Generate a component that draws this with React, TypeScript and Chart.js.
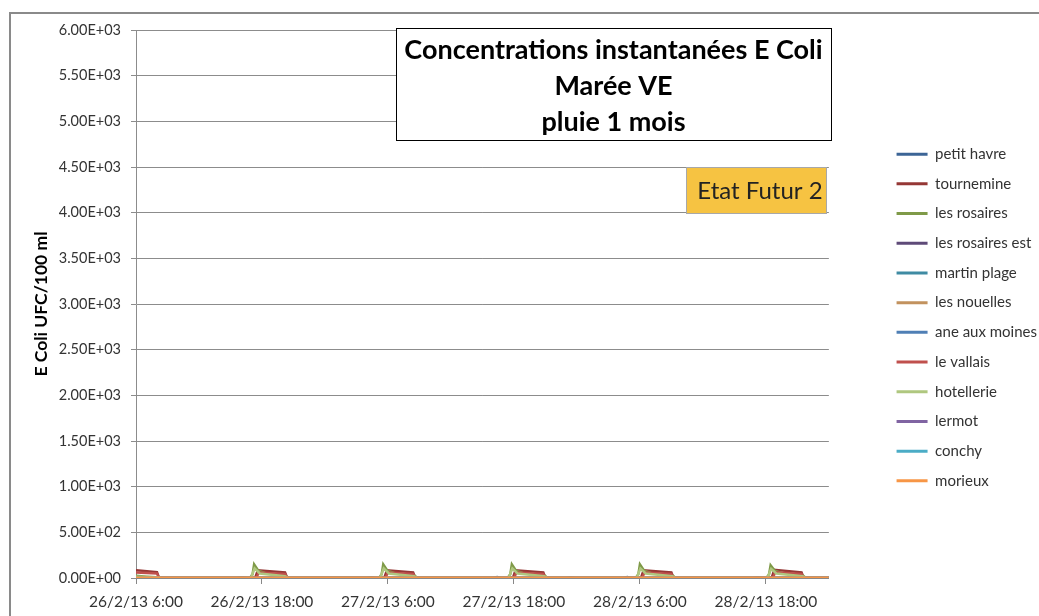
import React, { useEffect, useRef } from "react";
import { Chart, registerables } from "chart.js";

Chart.register(...registerables);

// ---- data (hours after 26/2/13 6:00, value UFC/100 ml) ----
const tickHours = [0, 12, 24, 36, 48, 60];
const tickLabels = ["26/2/13 6:00", "26/2/13 18:00", "27/2/13 6:00", "27/2/13 18:00", "28/2/13 6:00", "28/2/13 18:00"];
const yTicks = [0, 500, 1000, 1500, 2000, 2500, 3000, 3500, 4000, 4500, 5000, 5500, 6000];

const seriesNames = [
  "petit havre", "tournemine", "les rosaires", "les rosaires est", "martin plage", "les nouelles",
  "ane aux moines", "le vallais", "hotellerie", "lermot", "conchy", "morieux",
];
const seriesColors = [
  "#3C6596", "#953735", "#7F9A48", "#5E4A78", "#3F8BA3", "#C2925E",
  "#4F7FB5", "#C0504D", "#AFC77F", "#8064A2", "#4BACC6", "#F79646",
];

const petitHavre: [number, number][] = [
  [0, 0], [9.6, 0], [10.1, 8], [10.6, 0], [22.0, 0], [22.4, 8], [22.8, 0], [34.0, 0], [34.4, 10], [34.8, 0],
  [41.0, 0], [41.4, 8], [41.8, 0], [46.4, 0], [46.8, 10], [47.2, 0], [58.8, 0], [59.2, 8], [59.6, 0], [66, 0],
];
const tournemine: [number, number][] = [
  [0, 85], [2.0, 65], [2.2, 0], [11.35, 0], [11.6, 85], [14.2, 62], [14.4, 0],
  [23.65, 0], [23.9, 85], [26.4, 62], [26.6, 0], [35.9, 0], [36.15, 85], [38.8, 62], [39.0, 0],
  [48.1, 0], [48.35, 85], [51.0, 62], [51.2, 0], [60.55, 0], [60.8, 90], [63.4, 62], [63.6, 0], [66, 0],
];
const lesRosaires: [number, number][] = [
  [0, 25], [1.0, 15], [2.3, 5], [2.6, 0],
  [10.85, 0], [11.1, 40], [11.25, 150], [11.65, 80], [12.3, 55], [14.2, 30], [14.5, 0],
  [23.15, 0], [23.4, 40], [23.55, 150], [23.95, 80], [24.6, 55], [26.5, 30], [26.8, 0],
  [35.4, 0], [35.65, 40], [35.8, 150], [36.2, 80], [36.85, 55], [38.9, 30], [39.2, 0],
  [47.6, 0], [47.85, 40], [48.0, 150], [48.4, 80], [49.05, 55], [51.1, 30], [51.4, 0],
  [60.05, 0], [60.3, 40], [60.45, 140], [60.85, 80], [61.5, 55], [63.5, 30], [63.8, 0], [66, 0],
];
const lesRosairesEst: [number, number][] = [[0, 0], [66, 0]];
const martinPlage: [number, number][] = [[0, 0], [66, 0]];
const lesNouelles: [number, number][] = [[0, 0], [66, 0]];
const aneAuxMoines: [number, number][] = [[0, 0], [66, 0]];
const leVallais: [number, number][] = [
  [0, 60], [2.0, 50], [2.2, 0], [11.45, 0], [11.7, 60], [14.2, 45], [14.4, 0],
  [23.75, 0], [24.0, 60], [26.4, 45], [26.6, 0], [36.0, 0], [36.25, 60], [38.8, 45], [39.0, 0],
  [48.2, 0], [48.45, 60], [51.0, 45], [51.2, 0], [60.65, 0], [60.9, 62], [63.4, 45], [63.6, 0], [66, 0],
];
const hotellerie: [number, number][] = [
  [0, 15], [2.0, 8], [2.4, 0],
  [10.95, 0], [11.3, 105], [11.8, 50], [14.2, 20], [14.5, 0],
  [23.25, 0], [23.6, 105], [24.1, 50], [26.5, 20], [26.8, 0],
  [35.5, 0], [35.85, 105], [36.35, 50], [38.9, 20], [39.2, 0],
  [47.7, 0], [48.05, 105], [48.55, 50], [51.1, 20], [51.4, 0],
  [60.15, 0], [60.5, 100], [61.0, 50], [63.5, 20], [63.8, 0], [66, 0],
];
const lermot: [number, number][] = [[0, 0], [66, 0]];
const conchy: [number, number][] = [[0, 0], [66, 0]];
const morieux: [number, number][] = [[0, 0], [66, 0]];

const seriesData = [
  petitHavre, tournemine, lesRosaires, lesRosairesEst, martinPlage, lesNouelles,
  aneAuxMoines, leVallais, hotellerie, lermot, conchy, morieux,
];

const titleLines = ["Concentrations instantanées E Coli", "Marée VE", "pluie 1 mois"];
const stateLabel = "Etat Futur 2";
const yTitle = "E Coli UFC/100 ml";

const FONT = "Lato, 'Open Sans', sans-serif";

function fmtExp(v: number): string {
  if (v === 0) return "0.00E+00";
  const e = Math.floor(Math.log10(v) + 1e-9);
  const m = v / Math.pow(10, e);
  return m.toFixed(2) + "E+" + String(e).padStart(2, "0");
}

const decorPlugin = {
  id: "decor",
  beforeDraw(chart: any) {
    const ctx = chart.ctx;
    ctx.save();
    ctx.fillStyle = "#ffffff";
    ctx.fillRect(0, 0, chart.width, chart.height);
    ctx.strokeStyle = "#8a8a8a";
    ctx.lineWidth = 2;
    ctx.strokeRect(10, 13, chart.width + 40, chart.height + 40);
    ctx.restore();
  },
  afterDraw(chart: any) {
    const ctx = chart.ctx;
    const ca = chart.chartArea;
    ctx.save();
    // title box
    const bx = ca.left + 260, by = ca.top - 2, bw = 435, bh = 112;
    ctx.fillStyle = "#ffffff";
    ctx.fillRect(bx, by, bw, bh);
    ctx.strokeStyle = "#000000";
    ctx.lineWidth = 1;
    ctx.strokeRect(bx + 0.5, by + 0.5, bw, bh);
    ctx.fillStyle = "#000000";
    ctx.font = "bold 27px " + FONT;
    ctx.textAlign = "center";
    ctx.textBaseline = "middle";
    titleLines.forEach((t, i) => ctx.fillText(t, bx + bw / 2, by + 22 + i * 36));
    // state box
    const sx = ca.left + 550, sy = ca.top + 137, sw = 140, sh = 46;
    ctx.fillStyle = "#F6C342";
    ctx.fillRect(sx, sy, sw, sh);
    ctx.strokeStyle = "#A8A8A8";
    ctx.strokeRect(sx + 0.5, sy + 0.5, sw, sh);
    ctx.fillStyle = "#222222";
    ctx.font = "24px " + FONT;
    ctx.fillText(stateLabel, sx + sw / 2 + 4, sy + sh / 2 + 1);
    ctx.restore();
  },
};

export default function App() {
  const ref = useRef<HTMLCanvasElement>(null);
  useEffect(() => {
    if (!ref.current) return;
    const datasets = seriesNames.map((name, i) => ({
      label: name,
      data: seriesData[i].map(([x, y]) => ({ x, y })),
      borderColor: seriesColors[i],
      backgroundColor: seriesColors[i],
      borderWidth: i === 11 ? 3 : 2.5,
      pointRadius: 0,
      tension: 0,
      fill: false,
      order: 12 - i,
    }));
    const chart = new Chart(ref.current, {
      type: "line",
      data: { datasets },
      plugins: [decorPlugin],
      options: {
        animation: false,
        responsive: false,
        devicePixelRatio: 1,
        layout: { padding: { top: 30, bottom: 11, left: 0, right: -8 } },
        plugins: {
          title: { display: false },
          tooltip: { enabled: false },
          legend: {
            position: "right",
            align: "center",
            labels: {
              font: { family: FONT, size: 15 },
              color: "#333333",
              boxWidth: 31,
              boxHeight: 3,
              padding: 14.7,
              generateLabels: (c: any) =>
                c.data.datasets.map((ds: any, i: number) => ({
                  text: ds.label,
                  fillStyle: ds.borderColor,
                  strokeStyle: ds.borderColor,
                  lineWidth: 0,
                  hidden: false,
                  datasetIndex: i,
                  fontColor: "#333333",
                })),
            },
          },
        },
        scales: {
          x: {
            type: "linear",
            min: 0,
            max: 66,
            afterBuildTicks: (s: any) => {
              s.ticks = tickHours.map((v) => ({ value: v }));
            },
            afterFit: (s: any) => {
              s.height = 27;
              // let the tick labels run below the (short) axis box instead of being clipped
              s._computeLabelArea = () => undefined;
            },
            ticks: {
              autoSkip: false,
              maxRotation: 0,
              padding: 9,
              font: { family: FONT, size: 15.5 },
              color: "#333333",
              callback: (v: any) => {
                const idx = tickHours.indexOf(Number(v));
                return idx >= 0 ? tickLabels[idx] : "";
              },
            },
            grid: { drawOnChartArea: false, color: "#888888", tickLength: 6 },
            border: { color: "#888888" },
          },
          y: {
            min: 0,
            max: 6000,
            afterBuildTicks: (s: any) => {
              s.ticks = yTicks.map((v) => ({ value: v }));
            },
            afterFit: (s: any) => {
              s.width = 136;
            },
            ticks: {
              padding: 10,
              font: { family: FONT, size: 14.5 },
              color: "#333333",
              callback: (v: any) => fmtExp(Number(v)),
            },
            grid: { color: "#8c8c8c", tickLength: 5 },
            border: { color: "#8c8c8c" },
            title: {
              display: true,
              text: yTitle,
              font: { family: FONT, size: 17.5, weight: "bold" },
              color: "#000000",
              padding: { top: 30.5, bottom: 0 },
            },
          },
          gap: {
            type: "linear",
            position: "right",
            display: true,
            ticks: { display: false },
            grid: { display: false },
            border: { display: false },
            afterFit: (s: any) => {
              s.width = 53;
            },
          },
        },
      } as any,
    });
    return () => chart.destroy();
  }, []);
  return (
    <div style={{ position: "fixed", left: 0, top: 0, width: 1039, height: 616, overflow: "hidden" }}>
      <canvas ref={ref} width={1039} height={616} style={{ display: "block" }} />
    </div>
  );
}
